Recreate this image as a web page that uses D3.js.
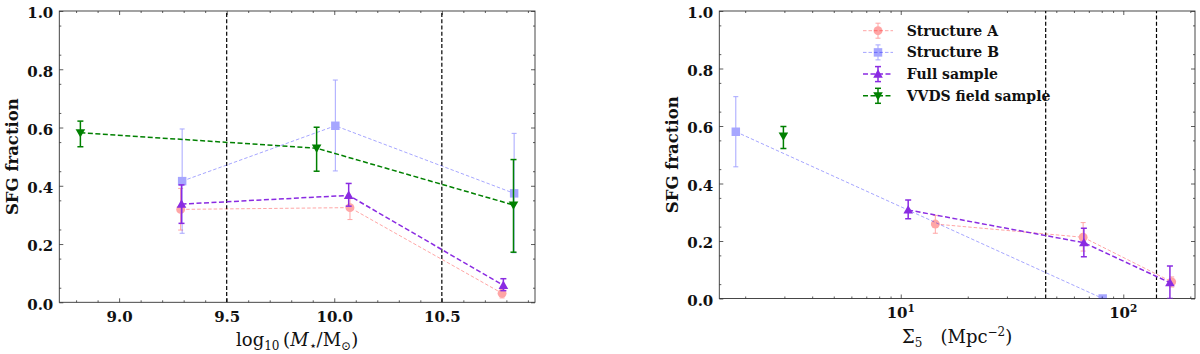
<!DOCTYPE html>
<html>
<head>
<style>
  body { margin: 0; background: #fff; }
  svg text { font-family: "DejaVu Serif", serif; font-weight: bold; fill: #111; }
</style>
</head>
<body>
<script src="https://cdn.jsdelivr.net/npm/d3@7"></script>
<script>
// ---- left panel: SFG fraction vs stellar mass ----
const massA_x = [9.286, 10.073, 10.78]
const massA_y = [0.319, 0.325, 0.031]
const massA_lo = [0.248, 0.284, 0.015]
const massA_hi = [0.391, 0.358, 0.046]

const massB_x = [9.293, 10.005, 10.836]
const massB_y = [0.416, 0.606, 0.374]
const massB_lo = [0.237, 0.451, 0.17]
const massB_hi = [0.595, 0.763, 0.58]

const massFull_x = [9.29, 10.067, 10.786]
const massFull_y = [0.337, 0.367, 0.058]
const massFull_lo = [0.271, 0.33, 0.04]
const massFull_hi = [0.403, 0.408, 0.081]

const massVVDS_x = [8.82, 9.918, 10.833]
const massVVDS_y = [0.582, 0.529, 0.334]
const massVVDS_lo = [0.534, 0.45, 0.172]
const massVVDS_hi = [0.622, 0.601, 0.49]

const massCuts = [9.5, 10.5]
const massTicks = [9.0, 9.5, 10.0, 10.5]

// ---- right panel: SFG fraction vs local density ----
const densA_x = [14.3, 66, 165]
const densA_y = [0.259, 0.213, 0.058]
const densA_lo = [0.227, 0.165, 0.04]
const densA_hi = [0.289, 0.264, 0.075]

const densB_x = [1.815, 80.8]
const densB_y = [0.58, 0.0]
const densB_lo = [0.458, 0.0]
const densB_hi = [0.702, 0.0]

const densFull_x = [10.8, 66.5, 162]
const densFull_y = [0.308, 0.194, 0.055]
const densFull_lo = [0.277, 0.145, 0.0]
const densFull_hi = [0.343, 0.244, 0.113]

const densVVDS_x = [2.97]
const densVVDS_y = [0.565]
const densVVDS_lo = [0.522]
const densVVDS_hi = [0.598]

const densCuts = [44.8, 141]
const densTicks = [10, 100]
const fracTicks = [0, 0.2, 0.4, 0.6, 0.8, 1.0]

const seriesNames = ["Structure A", "Structure B", "Full sample", "VVDS field sample"]

// style for each series, same order as names
const styles = [
  {color: "red", op: 0.35, sym: "circle", lw: 1, elw: 1, cap: 2.5, dash: "3.5,2"},
  {color: "blue", op: 0.35, sym: "square", lw: 1, elw: 1, cap: 2.5, dash: "3.5,2"},
  {color: "#8a2be2", op: 1, sym: "up", lw: 1.5, elw: 1.5, cap: 3, dash: "5,2.5"},
  {color: "green", op: 1, sym: "down", lw: 1.5, elw: 1.5, cap: 3, dash: "5,2.5"}
]

const svg = d3.select("body").append("svg").attr("width", 1200).attr("height", 354)

const xL = d3.scaleLinear().domain([8.722, 10.933]).range([59.3, 535])
const yL = d3.scaleLinear().domain([0, 1]).range([302.3, 11])
const xR = d3.scaleLog().domain([1.53, 210]).range([719.3, 1195])
const yR = d3.scaleLinear().domain([0, 1]).range([298.5, 11])

function symPath(sym) {
  if (sym == "circle") return d3.symbol().type(d3.symbolCircle).size(62)()
  if (sym == "square") return d3.symbol().type(d3.symbolSquare).size(72)()
  if (sym == "up") return "M0,-4.8L4.8,3.6L-4.8,3.6Z"
  return "M0,4.8L4.8,-3.6L-4.8,-3.6Z"
}

function drawSeries(g, x, y, xs, ys, lo, hi, st) {
  const s = g.append("g").attr("opacity", st.op)
  const pts = xs.map((v, i) => [x(v), y(ys[i]), y(lo[i]), y(hi[i])])
  s.append("path")
    .attr("d", d3.line()(pts.map(p => [p[0], p[1]])))
    .attr("fill", "none").attr("stroke", st.color)
    .attr("stroke-width", st.lw).attr("stroke-dasharray", st.dash)
  pts.forEach(p => {
    s.append("line").attr("x1", p[0]).attr("x2", p[0]).attr("y1", p[2]).attr("y2", p[3])
      .attr("stroke", st.color).attr("stroke-width", st.elw)
    ;[p[2], p[3]].forEach(cy => {
      s.append("line").attr("x1", p[0] - st.cap).attr("x2", p[0] + st.cap).attr("y1", cy).attr("y2", cy)
        .attr("stroke", st.color).attr("stroke-width", st.elw)
    })
    s.append("path").attr("d", symPath(st.sym))
      .attr("transform", `translate(${p[0]},${p[1]})`).attr("fill", st.color)
  })
}

function drawPanel(id, x, y, xMajor, xMinor, yMajor, yMinor, xFmt, pad) {
  const [x0, x1] = x.range()
  const [y1, y0] = y.range()
  const g = svg.append("g")
  const ink = "#333"

  g.append("clipPath").attr("id", id).append("rect")
    .attr("x", x0).attr("y", y0).attr("width", x1 - x0).attr("height", y1 - y0)

  const tidy = a => a.call(s => s.select(".domain").remove())
    .call(s => s.selectAll("line").attr("stroke", ink).attr("stroke-width", 0.8))

  // bottom and top
  g.append("g").attr("transform", `translate(0,${y1})`)
    .call(d3.axisBottom(x).tickValues(xMajor).tickSize(-4).tickPadding(pad).tickFormat(xFmt)).call(tidy)
    .selectAll("text").attr("font-size", 15).attr("font-family", null).attr("fill", "#111")
  g.append("g").attr("transform", `translate(0,${y1})`)
    .call(d3.axisBottom(x).tickValues(xMinor).tickSize(-2).tickFormat("")).call(tidy)
  g.append("g").attr("transform", `translate(0,${y0})`)
    .call(d3.axisTop(x).tickValues(xMajor).tickSize(-4).tickFormat("")).call(tidy)
  g.append("g").attr("transform", `translate(0,${y0})`)
    .call(d3.axisTop(x).tickValues(xMinor).tickSize(-2).tickFormat("")).call(tidy)

  // left and right
  g.append("g").attr("transform", `translate(${x0},0)`)
    .call(d3.axisLeft(y).tickValues(yMajor).tickSize(-4).tickPadding(6).tickFormat(d3.format(".1f"))).call(tidy)
    .selectAll("text").attr("font-size", 15).attr("font-family", null).attr("fill", "#111").attr("dy", "0.45em")
  g.append("g").attr("transform", `translate(${x0},0)`)
    .call(d3.axisLeft(y).tickValues(yMinor).tickSize(-2).tickFormat("")).call(tidy)
  g.append("g").attr("transform", `translate(${x1},0)`)
    .call(d3.axisRight(y).tickValues(yMajor).tickSize(-4).tickFormat("")).call(tidy)
  g.append("g").attr("transform", `translate(${x1},0)`)
    .call(d3.axisRight(y).tickValues(yMinor).tickSize(-2).tickFormat("")).call(tidy)

  g.append("rect").attr("x", x0).attr("y", y0).attr("width", x1 - x0).attr("height", y1 - y0)
    .attr("fill", "none").attr("stroke", ink).attr("stroke-width", 0.9)

  g.append("text")
    .attr("transform", `translate(${x0 - 47},${(y0 + y1) / 2}) rotate(-90)`)
    .attr("text-anchor", "middle").attr("dy", "0.35em").attr("font-size", 16.5)
    .text("SFG fraction")

  const plot = g.append("g").attr("clip-path", `url(#${id})`)
  return plot
}

// left panel
const minorMass = d3.range(8.8, 10.95, 0.1).map(v => +v.toFixed(1)).filter(v => !massTicks.includes(v))
const minorFrac = d3.range(0.05, 1, 0.1).map(v => +v.toFixed(2))
const pL = drawPanel("clipL", xL, yL, massTicks, minorMass, fracTicks, minorFrac, d3.format(".1f"), 8.7)

massCuts.forEach(v => {
  pL.append("line").attr("x1", xL(v)).attr("x2", xL(v)).attr("y1", yL(0)).attr("y2", yL(1))
    .attr("stroke", "#000").attr("stroke-width", 1.2).attr("stroke-dasharray", "4,2.2")
})
drawSeries(pL, xL, yL, massA_x, massA_y, massA_lo, massA_hi, styles[0])
drawSeries(pL, xL, yL, massB_x, massB_y, massB_lo, massB_hi, styles[1])
drawSeries(pL, xL, yL, massFull_x, massFull_y, massFull_lo, massFull_hi, styles[2])
drawSeries(pL, xL, yL, massVVDS_x, massVVDS_y, massVVDS_lo, massVVDS_hi, styles[3])

const xlabL = svg.append("text").attr("x", (xL.range()[0] + xL.range()[1]) / 2).attr("y", 346.3)
  .attr("text-anchor", "middle").attr("font-size", 18).style("font-weight", "normal")
xlabL.append("tspan").text("log")
xlabL.append("tspan").attr("font-size", 12).attr("dy", 4).text("10")
xlabL.append("tspan").attr("dy", -4).text("\u2009(")
xlabL.append("tspan").attr("font-style", "italic").text("M")
xlabL.append("tspan").attr("font-size", 13).attr("dy", 4).text("\u22c6")
xlabL.append("tspan").attr("dy", -4).text("/M")
xlabL.append("tspan").attr("font-size", 12).attr("dy", 4).text("\u2299")
xlabL.append("tspan").attr("dy", -4).text(")")

// right panel
const minorDens = [2, 3, 4, 5, 6, 7, 8, 9, 20, 30, 40, 50, 60, 70, 80, 90, 200]
const pR = drawPanel("clipR", xR, yR, densTicks, minorDens, fracTicks, minorFrac, () => "", 9.2)

// superscript labels for the log axis
densTicks.forEach(v => {
  const t = svg.append("text").attr("x", xR(v)).attr("y", 318.3).attr("text-anchor", "middle").attr("font-size", 15)
  t.append("tspan").text("10")
  t.append("tspan").attr("dy", -6).attr("font-size", 10.5).text(Math.round(Math.log10(v)))
})

densCuts.forEach(v => {
  pR.append("line").attr("x1", xR(v)).attr("x2", xR(v)).attr("y1", yR(0)).attr("y2", yR(1))
    .attr("stroke", "#000").attr("stroke-width", 1.2).attr("stroke-dasharray", "4,2.2")
})
drawSeries(pR, xR, yR, densA_x, densA_y, densA_lo, densA_hi, styles[0])
drawSeries(pR, xR, yR, densB_x, densB_y, densB_lo, densB_hi, styles[1])
drawSeries(pR, xR, yR, densFull_x, densFull_y, densFull_lo, densFull_hi, styles[2])
drawSeries(pR, xR, yR, densVVDS_x, densVVDS_y, densVVDS_lo, densVVDS_hi, styles[3])

const xlabR = svg.append("text").attr("x", (xR.range()[0] + xR.range()[1]) / 2).attr("y", 342.5)
  .attr("text-anchor", "middle").attr("font-size", 18).style("font-weight", "normal")
xlabR.append("tspan").text("\u03a3")
xlabR.append("tspan").attr("font-size", 12).attr("dy", 4).text("5")
xlabR.append("tspan").attr("dy", -4).text("\u2003(Mpc")
xlabR.append("tspan").attr("font-size", 12).attr("dy", -7).text("\u22122")
xlabR.append("tspan").attr("dy", 7).text(")")

// legend
const legend = svg.append("g").attr("transform", "translate(863,30.7)")
seriesNames.forEach((name, i) => {
  const st = styles[i]
  const row = legend.append("g").attr("transform", `translate(0,${i * 21.7})`)
  drawSeries(row, v => v, v => v, [15], [0], [7.5], [-7.5], st)
  row.select("path").remove()
  row.insert("line", ":first-child").attr("x1", 0).attr("x2", 30).attr("y1", 0).attr("y2", 0)
    .attr("stroke", st.color).attr("stroke-width", st.lw).attr("stroke-dasharray", st.dash)
    .attr("opacity", st.op)
  row.append("text").attr("x", 43.7).attr("y", 0).attr("dy", "0.35em").attr("font-size", 14).text(name)
})
</script>
</body>
</html>
